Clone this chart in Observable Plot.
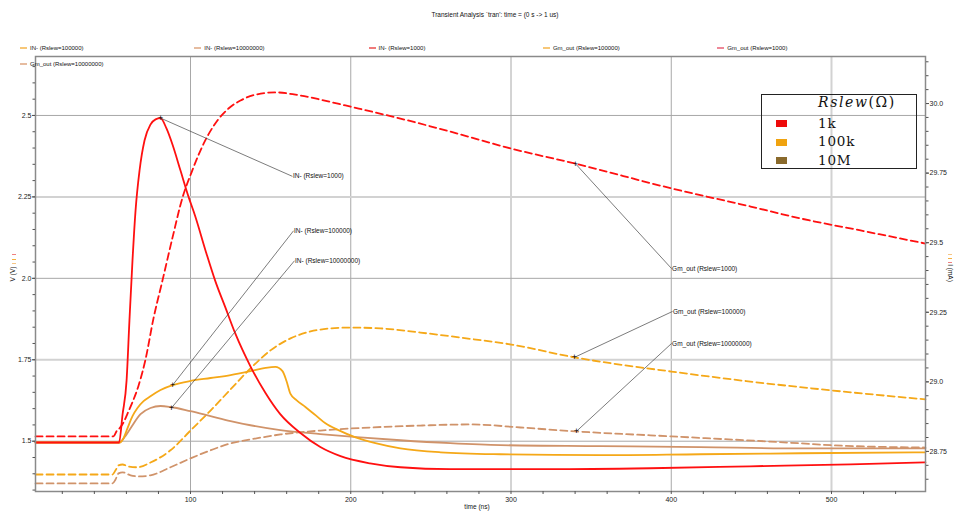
<!DOCTYPE html>
<html><head><meta charset="utf-8">
<script src="https://cdn.jsdelivr.net/npm/d3@7"></script>
<script src="https://cdn.jsdelivr.net/npm/@observablehq/plot@0.6"></script>
<style>
body{margin:0;background:#fff;}
#wrap{position:relative;width:956px;height:511px;font-family:"Liberation Sans",Arial,sans-serif;color:#111;overflow:hidden;}
.abs{position:absolute;white-space:nowrap;line-height:1;}
</style></head><body><div id="wrap"></div>
<script>
// ---- data (time in ns, V in volts, Gm_out in mA) ----
const tIn1k = [3.3,55.4,57.6,60.1,61.9,63.8,65.7,68.2,71.3,75,78.2,81.3,85,88.8,93.8,98.8,103,109.4,115.6,121.8,128,137.4,146.8,156,168.6,181,193.6,212,231,262,324.6,387,449,512,558.6];
const vIn1k = [1.496,1.496,1.582,1.686,1.871,2.055,2.208,2.331,2.423,2.472,2.488,2.492,2.46,2.41,2.33,2.25,2.19,2.085,1.99,1.91,1.83,1.73,1.648,1.583,1.525,1.482,1.454,1.432,1.42,1.414,1.414,1.417,1.423,1.429,1.435];
const tIn100k = [3.3,55.7,58.2,60.7,63.8,66.9,70.7,75,81.3,88.8,100,112.5,125,137.4,146.8,153,157.4,159.9,162.4,166.1,171.7,178,184.2,192.3,203,215.4,231,256,293.4,355.8,418,480.5,558.6];
const vIn100k = [1.496,1.496,1.509,1.54,1.577,1.602,1.623,1.638,1.657,1.672,1.685,1.694,1.703,1.715,1.725,1.728,1.715,1.685,1.645,1.626,1.605,1.58,1.555,1.534,1.512,1.494,1.478,1.466,1.46,1.457,1.46,1.463,1.466];
const tIn10M = [3.3,55.7,58.8,62.6,68.8,75,81.3,87.5,100,112.5,125,137.4,156,181,206,231,262,293.4,355.8,418,480.5,558.6];
const vIn10M = [1.496,1.496,1.512,1.54,1.583,1.602,1.608,1.605,1.592,1.577,1.562,1.549,1.534,1.522,1.512,1.503,1.494,1.488,1.485,1.482,1.478,1.478];
const tGm1k = [3.3,52,53.8,55.7,58.2,60.7,63.2,67.6,71.9,76.9,82.5,88.8,95,100.6,106.2,111.2,116.8,123.7,131.2,140.6,153,165.5,181.1,196.7,231,262.2,300.3,340.2,400.2,449.5,480.7,518.1,558.6];
const iGm1k = [28.804,28.804,28.822,28.833,28.854,28.886,28.919,28.987,29.080,29.228,29.364,29.519,29.662,29.752,29.831,29.889,29.939,29.982,30.011,30.032,30.040,30.032,30.014,29.993,29.946,29.899,29.838,29.784,29.695,29.630,29.587,29.544,29.497];
const tGm100k = [3.3,51.3,53.2,55.1,57.6,61.3,66.9,75,87.5,100,112.5,125,137.4,149.9,162.4,174.9,187.3,199.8,218.6,243.5,268.5,300.2,339.6,400,449.3,500.5,558.6];
const iGm100k = [28.667,28.667,28.682,28.700,28.703,28.696,28.693,28.710,28.754,28.825,28.897,28.973,29.048,29.113,29.156,29.181,29.192,29.195,29.192,29.177,29.159,29.134,29.088,29.037,29.001,28.969,28.937];
const tGm10M = [3.3,51.3,53.2,55.1,57.6,62.6,67.6,75,87.5,100,112.5,125,137.4,156.2,181.1,212.3,243.5,274.7,305.9,340.2,400.2,480.7,500.6,558.6];
const iGm10M = [28.635,28.635,28.649,28.671,28.675,28.664,28.660,28.664,28.693,28.725,28.754,28.779,28.793,28.811,28.825,28.836,28.843,28.847,28.836,28.822,28.804,28.779,28.772,28.764];

const xTicks = [100,200,300,400,500];
const vTicks = [1.5,1.75,2.0,2.25,2.5];
const iTicks = [28.75,29.0,29.25,29.5,29.75,30.0];
const legendNames = ["IN- (Rslew=100000)","IN- (Rslew=10000000)","IN- (Rslew=1000)","Gm_out (Rslew=100000)","Gm_out (Rslew=1000)","Gm_out (Rslew=10000000)"];
const legendColors = ["#f7c778","#e6bca0","#f07a7a","#f7c778","#ee8898","#e6bca0"];
const rslewLabels = ["1k","100k","10M"];
const rslewColors = ["#ee0a0a","#f0a30f","#8a6a2c"];

// annotations: marker point (mt,mv) and label point (lt,lv); right = in mA
const annot = [
  {label:"IN- (Rslew=1000)", mt:81.3, mv:2.492, lt:163.6, lv:2.313, right:false},
  {label:"IN- (Rslew=100000)", mt:88.8, mv:1.672, lt:164.3, lv:2.146, right:false},
  {label:"IN- (Rslew=10000000)", mt:88.1, mv:1.602, lt:164.9, lv:2.054, right:false},
  {label:"Gm_out (Rslew=1000)", mt:340.2, mv:29.784, lt:400.2, lv:29.407, right:true},
  {label:"Gm_out (Rslew=100000)", mt:339.6, mv:29.088, lt:400.8, lv:29.253, right:true},
  {label:"Gm_out (Rslew=10000000)", mt:340.8, mv:28.822, lt:400.2, lv:29.138, right:true}
];

const xDomain = [3.27, 558.66];
const yDomain = [1.3456, 2.681];
const iDomain = [28.606, 30.169];
const toV = d3.scaleLinear(iDomain, yDomain);
const fmt = x => { const r = Math.round(x*100)/100; return Number.isInteger(r) ? r.toFixed(1) : String(r); };

const series = [
  {t:tGm10M, v:iGm10M, right:true, color:"#d0936a", dash:"7,4"},
  {t:tGm100k, v:iGm100k, right:true, color:"#f5a818", dash:"7,4"},
  {t:tGm1k, v:iGm1k, right:true, color:"#ff1010", dash:"7,4"},
  {t:tIn10M, v:vIn10M, right:false, color:"#d0936a", dash:null},
  {t:tIn100k, v:vIn100k, right:false, color:"#f5a818", dash:null},
  {t:tIn1k, v:vIn1k, right:false, color:"#ff1010", dash:null}
];
const lineMarks = series.map(s => Plot.line(
  s.t.map((t,i) => ({t, y: s.right ? toV(s.v[i]) : s.v[i]})),
  {x:"t", y:"y", stroke:s.color, strokeWidth:1.8, strokeDasharray:s.dash, curve:"monotone-x"}
));
const ann = annot.map(a => ({label:a.label, mt:a.mt, lt:a.lt,
  my: a.right ? toV(a.mv) : a.mv, ly: a.right ? toV(a.lv) : a.lv}));

const minorX = d3.range(20, 560, 20).filter(d => d % 100 !== 0);
const minorV = d3.range(27, 54).map(k => k*0.05).filter(v => v > yDomain[0] && v < yDomain[1]);
const minorI = d3.range(573, 604).map(k => k*0.05).filter(v => v > iDomain[0] && v < iDomain[1]).map(toV);

const chart = Plot.plot({
  width:956, height:511,
  marginLeft:35, marginRight:31, marginTop:56, marginBottom:20,
  style:{fontFamily:"Liberation Sans, Arial, sans-serif", fontSize:"7px", background:"#fff", color:"#222"},
  x:{domain:xDomain, axis:null},
  y:{domain:yDomain, axis:null},
  marks:[
    Plot.ruleX(xTicks.filter(d => d !== 500), {stroke:"#a8a8a8", strokeWidth:1}),
    Plot.ruleX([500], {stroke:"#d2d2d2", strokeWidth:2}),
    Plot.ruleY([1.5,2.0,2.5], {stroke:"#a8a8a8", strokeWidth:1}),
    Plot.ruleY([1.75,2.25], {stroke:"#d2d2d2", strokeWidth:2}),
    ...lineMarks,
    Plot.link(ann, {x1:"mt", y1:"my", x2:"lt", y2:"ly", stroke:"#444", strokeWidth:0.7}),
    Plot.text(ann, {x:"mt", y:"my", text:() => "+", fontSize:9, fill:"#000"}),
    Plot.text(ann, {x:"lt", y:"ly", text:"label", textAnchor:"start", fontSize:6.5, fill:"#111", dx:0.5}),
    Plot.frame({stroke:"#8a8a8a", strokeWidth:1.5}),
    Plot.axisX({ticks:xTicks, tickSize:3, tickPadding:3, tickFormat:d => String(d), label:null, fontSize:7, stroke:"#555"}),
    Plot.axisX({ticks:minorX, tickSize:3, tickFormat:() => "", label:null, stroke:"#555"}),
    Plot.axisY({anchor:"left", ticks:vTicks, tickSize:3, tickPadding:1, tickFormat:fmt, label:null, fontSize:7, stroke:"#555"}),
    Plot.axisY({anchor:"left", ticks:minorV, tickSize:2.5, tickFormat:() => "", label:null, stroke:"#555"}),
    Plot.axisY({anchor:"right", ticks:iTicks.map(toV), tickSize:3, tickPadding:1, tickFormat:v => fmt(toV.invert(v)), label:null, fontSize:7, stroke:"#555"}),
    Plot.axisY({anchor:"right", ticks:minorI, tickSize:2.5, tickFormat:() => "", label:null, stroke:"#555"})
  ]
});
const wrap = document.getElementById("wrap");
wrap.appendChild(chart);
chart.style.position = "absolute"; chart.style.left = "0"; chart.style.top = "0";

function add(html, css){ const d = document.createElement("div"); d.className = "abs"; d.innerHTML = html; Object.assign(d.style, css); wrap.appendChild(d); return d; }

// title
add("Transient Analysis `tran': time = (0 s -&gt; 1 us)", {left:"495px", top:"12px", fontSize:"6.5px", transform:"translateX(-50%)"});
// top legend
legendNames.forEach((n,i) => {
  const row = i < 5 ? 0 : 1, col = i < 5 ? i : 0;
  const x = 20 + col*174.3, y = 48 + row*16;
  add("", {left:x+"px", top:(y-0.75)+"px", width:"7px", height:"1.5px", background:legendColors[i]});
  add(n, {left:(x+10)+"px", top:(y-3.3)+"px", fontSize:"6px"});
});
// axis titles
add("time (ns)", {left:"477px", top:"504px", fontSize:"6.5px", transform:"translateX(-50%)"});
add("V (V)", {left:"13px", top:"274px", fontSize:"6.5px", transform:"translate(-50%,-50%) rotate(-90deg)"});
add("I (mA)", {left:"950px", top:"273px", fontSize:"6.5px", transform:"translate(-50%,-50%) rotate(90deg)"});
[["#f08080",254],["#f5b040",259],["#f6c585",263]].forEach(([c,y]) => add("", {left:"12px", top:y+"px", width:"4px", height:"1px", background:c}));
[["#f6c585",254],["#f5b040",258],["#f08080",262]].forEach(([c,y]) => add("", {left:"948px", top:y+"px", width:"4px", height:"1px", background:c}));

// Rslew legend box
add("", {left:"761px", top:"94px", width:"156px", height:"75px", boxSizing:"border-box", border:"1.5px solid #222"});
add("<i>Rslew</i>(Ω)", {left:"818px", top:"95px", fontFamily:"'DejaVu Serif', serif", fontSize:"14px", letterSpacing:"1.6px"});
rslewLabels.forEach((l,i) => {
  const yc = 123.5 + i*18.5;
  add("", {left:"776px", top:(yc-3.5)+"px", width:"11px", height:"7px", background:rslewColors[i]});
  add(l, {left:"818px", top:(yc-7)+"px", fontFamily:"'DejaVu Serif', serif", fontSize:"13.5px", letterSpacing:"0.8px"});
});
</script></body></html>
